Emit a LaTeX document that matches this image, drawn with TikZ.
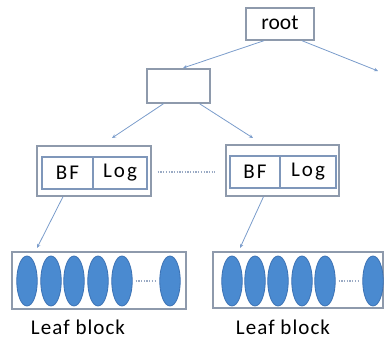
\documentclass[tikz,border=0pt]{standalone}
\usepackage{fontspec}
\setmainfont{Carlito}
\usetikzlibrary{arrows.meta,calc,shapes.geometric}
\definecolor{boxgray}{HTML}{8E9AAC}
\definecolor{innerblue}{HTML}{7F97BA}
\definecolor{arrowblue}{HTML}{7A9CCB}
\definecolor{dotgray}{HTML}{9AAAC4}
\definecolor{ellfill}{HTML}{4A8AD0}
\definecolor{elldraw}{HTML}{3C72B4}
\tikzset{
  box/.style={draw=boxgray,line width=1.4pt,fill=white,inner sep=0pt},
  inbox/.style={draw=innerblue,line width=1.1pt,inner sep=0pt},
  arr/.style={draw=arrowblue,line width=0.8pt,-{Stealth[length=4pt,width=3.5pt]}},
  dots/.style={draw=dotgray,line width=1.3pt,dash pattern=on 1.3pt off 1.4pt},
  leaf/.style={ellipse,draw=elldraw,line width=0.8pt,fill=ellfill,minimum width=20.5pt,minimum height=50pt,inner sep=0pt},
  lbl/.style={font=\fontsize{21}{23}\selectfont\addfontfeature{LetterSpace=5},inner sep=0pt},
  roottxt/.style={font=\fontsize{21.5}{23}\selectfont,inner sep=0pt},
  celltxt/.style={font=\fontsize{21}{23}\selectfont\addfontfeature{LetterSpace=10},inner sep=0pt}
}
\begin{document}
\begin{tikzpicture}[x=1pt,y=-1pt]
\useasboundingbox (0,0) rectangle (384,339);
% root and middle node
\node[box,minimum width=68pt,minimum height=32pt] (root) at (280,24) {};
\node[roottxt] (rtxt) at (280,23) {root};
\node[box,minimum width=63pt,minimum height=34pt] (mid) at (178.5,86) {};
% left index block
\node[box,minimum width=114pt,minimum height=50pt] (lidx) at (94,171) {};
\node[inbox,minimum width=51pt,minimum height=32pt] (lbf) at (67.5,173) {};
\node[inbox,minimum width=54pt,minimum height=32pt] (llog) at (120,173) {};
\node[celltxt] at (lbf) {BF};
\node[celltxt] at (llog) {Log};
% right index block
\node[box,minimum width=113pt,minimum height=51pt] (ridx) at (282.5,170.5) {};
\node[inbox,minimum width=50pt,minimum height=32pt] (rbf) at (255,172) {};
\node[inbox,minimum width=56pt,minimum height=32pt] (rlog) at (308,172) {};
\node[celltxt] at (rbf) {BF};
\node[celltxt] at (rlog) {Log};
% leaf blocks
\node[box,line width=1.2pt,minimum width=174pt,minimum height=57pt] (lleaf) at (99,280.5) {};
\node[box,line width=1.2pt,minimum width=170pt,minimum height=56pt] (rleaf) at (298,280) {};
\foreach \x [count=\i] in {27,51,74,98,122,170} \node[leaf] (le\i) at (\x,281) {};
\foreach \x [count=\i] in {232,255,278,302,325,373} \node[leaf] (re\i) at (\x,281) {};
\draw[dots] ([xshift=3pt]le5.east) -- ([xshift=-3pt]le6.west);
\draw[dots] ([xshift=3pt]re5.east) -- ([xshift=-3pt]re6.west);
% dotted link between index blocks
\draw[dots] ($(lidx.east)+(6,1)$) coordinate (dl) -- ($(ridx.west)+(-10,1.5)$) coordinate (dr);
% labels
\node[lbl] (l1) at (78,327) {Leaf block};
\node[lbl] (l2) at (283,327) {Leaf block};
% arrow endpoints
\coordinate (e1) at (183,68);
\coordinate (e2) at (378,71);
\coordinate (e3) at (112,138);
\coordinate (e4) at (253,138);
\coordinate (e5) at (37,248);
\coordinate (e6) at (240,248);
% connectors
\draw[arr] ([xshift=-16pt]root.south) -- (e1);
\draw[arr] ([xshift=22pt]root.south) -- (e2);
\draw[arr] ([xshift=-15pt]mid.south) -- (e3);
\draw[arr] ([xshift=21pt]mid.south) -- (e4);
\draw[arr] ([xshift=-31pt]lidx.south) -- (e5);
\draw[arr] ([xshift=-19pt]ridx.south) -- (e6);
\end{tikzpicture}
\end{document}
